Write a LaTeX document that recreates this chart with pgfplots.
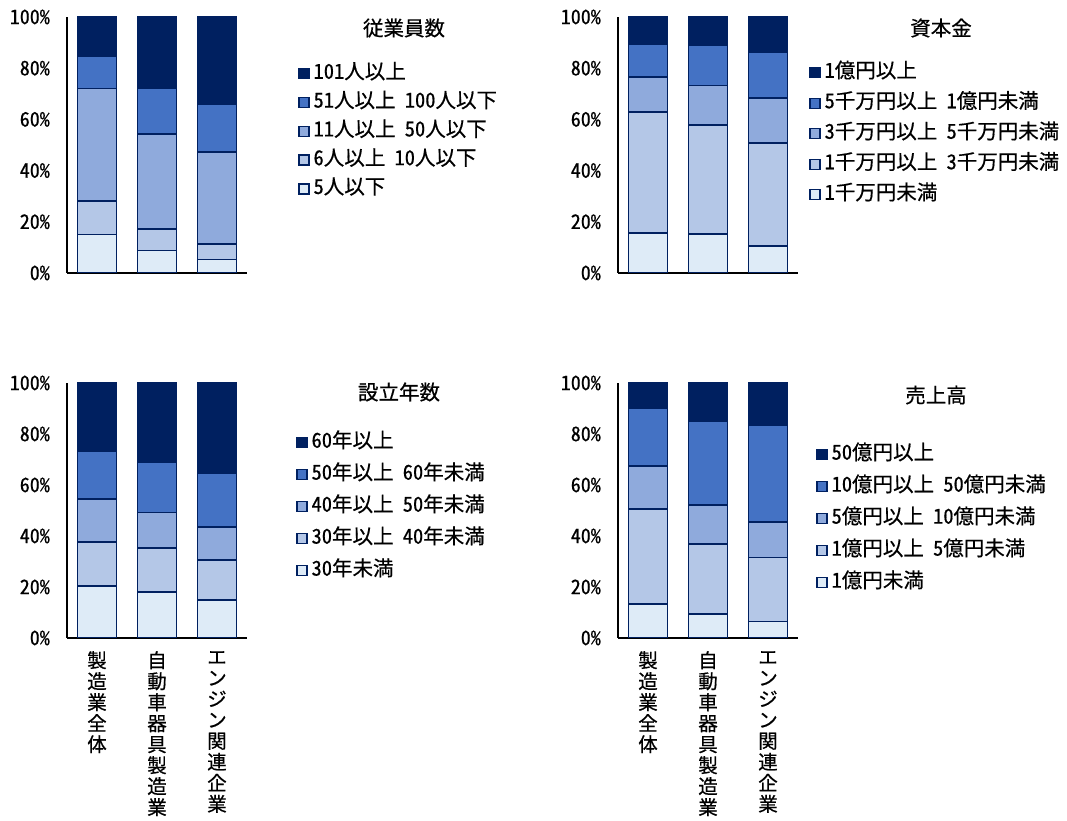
\documentclass[border=0pt]{standalone}
\usepackage{pgfplots}
\usepackage{pgfplotstable}
\pgfplotsset{compat=1.18}
\usepackage{fontspec}
\setmainfont{Noto Sans CJK JP}[FakeBold=0.6]
\newfontfamily\hwfont{Noto Sans CJK JP}[RawFeature=+hwid, FakeBold=0.6]

\newcommand\ticksize{\hwfont\fontsize{20bp}{24bp}\selectfont}
\newcommand\legsize{\hwfont\fontsize{20.5bp}{24bp}\selectfont}
\newcommand\titlesize{\fontsize{20.5bp}{24bp}\selectfont}
\newcommand\catsize{\fontsize{19.5bp}{21bp}\selectfont}
\newcommand\gap{\hspace{0.45em}}

\definecolor{c1}{HTML}{DEEBF7}
\definecolor{c2}{HTML}{B4C7E7}
\definecolor{c3}{HTML}{8FAADC}
\definecolor{c4}{HTML}{4472C4}
\definecolor{c5}{HTML}{002060}

% shares (%) per category: 0 製造業全体, 1 自動車器具製造業, 2 エンジン関連企業
% columns a..e run from the lowest class to the highest
\pgfplotstableread{
x a b c d e
0 15.0 13.2 43.9 12.7 15.2
1 8.8 8.3 37.2 17.8 27.9
2 5.3 6.0 36.0 18.7 34.0
}\tabEmp
\pgfplotstableread{
x a b c d e
0 15.6 47.4 13.6 13.0 10.4
1 15.2 42.6 15.4 15.9 10.9
2 10.4 40.5 17.5 18.0 13.6
}\tabCap
\pgfplotstableread{
x a b c d e
0 20.5 17.3 16.8 18.8 26.6
1 17.9 17.3 14.0 19.9 30.9
2 14.9 15.7 12.8 21.4 35.2
}\tabAge
\pgfplotstableread{
x a b c d e
0 13.3 37.4 16.8 22.5 10.0
1 9.4 27.6 15.2 32.8 15.0
2 6.5 25.1 14.0 37.8 16.6
}\tabSales

\pgfplotsset{
  panel/.style={
    scale only axis, width=180bp,
    xmin=-0.5, xmax=2.5, ymin=0, ymax=100,
    axis x line=bottom, axis y line=left,
    axis line style={black, line width=1.2bp, -},
    ybar stacked, bar width=39bp,
    ytick={0,20,40,60,80,100},
    yticklabels={0\%,20\%,40\%,60\%,80\%,100\%},
    major tick length=0pt,
    yticklabel style={font=\ticksize, inner sep=0pt, xshift=-17bp},
    reverse legend,
    legend cell align=left,
    legend image code/.code={\draw[##1, line width=1.4bp] (0bp,-5bp) rectangle (10bp,5bp);},
    legend style={draw=none, fill=none, anchor=north west, font=\legsize,
      inner sep=0pt, column sep=4bp,
      nodes={inner sep=0pt, text height=15bp, text depth=5bp}},
  },
  catlabels/.style={
    xtick={0,1,2},
    xticklabels={{製\\造\\業\\全\\体},{自\\動\\車\\器\\具\\製\\造\\業},{エ\\ン\\ジ\\ン\\関\\連\\企\\業}},
    xticklabel style={font=\catsize, align=center, inner sep=0pt, anchor=north, yshift=-13bp},
  },
  s1/.style={fill=c1, draw=c5, line width=1.8bp},
  s2/.style={fill=c2, draw=c5, line width=1.8bp},
  s3/.style={fill=c3, draw=c5, line width=1.8bp},
  s4/.style={fill=c4, draw=c5, line width=1.8bp},
  s5/.style={fill=c5, draw=c5, line width=1.8bp},
}

\begin{document}
\begin{tikzpicture}
\path[use as bounding box] (0bp,0bp) rectangle (1067bp,821bp);

% 従業員数
\begin{axis}[panel, height=256bp, at={(67bp,548bp)}, anchor=south west, xtick=\empty,
  legend style={at={(1.283,0.818)}, row sep=8.8bp}]
\addplot[s1] table[x=x,y=a]{\tabEmp};
\addplot[s2] table[x=x,y=b]{\tabEmp};
\addplot[s3] table[x=x,y=c]{\tabEmp};
\addplot[s4] table[x=x,y=d]{\tabEmp};
\addplot[s5] table[x=x,y=e]{\tabEmp};
\legend{5人以下,6人以上\gap 10人以下,11人以上\gap 50人以下,51人以上\gap 100人以下,101人以上}
\end{axis}

% 資本金
\begin{axis}[panel, height=256bp, at={(618bp,548bp)}, anchor=south west, xtick=\empty,
  legend style={at={(1.061,0.822)}, row sep=10.5bp}]
\addplot[s1] table[x=x,y=a]{\tabCap};
\addplot[s2] table[x=x,y=b]{\tabCap};
\addplot[s3] table[x=x,y=c]{\tabCap};
\addplot[s4] table[x=x,y=d]{\tabCap};
\addplot[s5] table[x=x,y=e]{\tabCap};
\legend{1千万円未満,1千万円以上\gap 3千万円未満,3千万円以上\gap 5千万円未満,5千万円以上\gap 1億円未満,1億円以上}
\end{axis}

% 設立年数
\begin{axis}[panel, height=255bp, at={(67bp,183bp)}, anchor=south west, catlabels,
  legend style={at={(1.272,0.806)}, row sep=12bp}]
\addplot[s1] table[x=x,y=a]{\tabAge};
\addplot[s2] table[x=x,y=b]{\tabAge};
\addplot[s3] table[x=x,y=c]{\tabAge};
\addplot[s4] table[x=x,y=d]{\tabAge};
\addplot[s5] table[x=x,y=e]{\tabAge};
\legend{30年未満,30年以上\gap 40年未満,40年以上\gap 50年未満,50年以上\gap 60年未満,60年以上}
\end{axis}

% 売上高
\begin{axis}[panel, height=255bp, at={(618bp,183bp)}, anchor=south west, catlabels,
  legend style={at={(1.1,0.759)}, row sep=12bp}]
\addplot[s1] table[x=x,y=a]{\tabSales};
\addplot[s2] table[x=x,y=b]{\tabSales};
\addplot[s3] table[x=x,y=c]{\tabSales};
\addplot[s4] table[x=x,y=d]{\tabSales};
\addplot[s5] table[x=x,y=e]{\tabSales};
\legend{1億円未満,1億円以上\gap 5億円未満,5億円以上\gap 10億円未満,10億円以上\gap 50億円未満,50億円以上}
\end{axis}

\node[font=\titlesize] at (404bp,793bp) {従業員数};
\node[font=\titlesize] at (941bp,793bp) {資本金};
\node[font=\titlesize] at (399bp,429bp) {設立年数};
\node[font=\titlesize] at (936bp,426bp) {売上高};
\end{tikzpicture}
\end{document}
